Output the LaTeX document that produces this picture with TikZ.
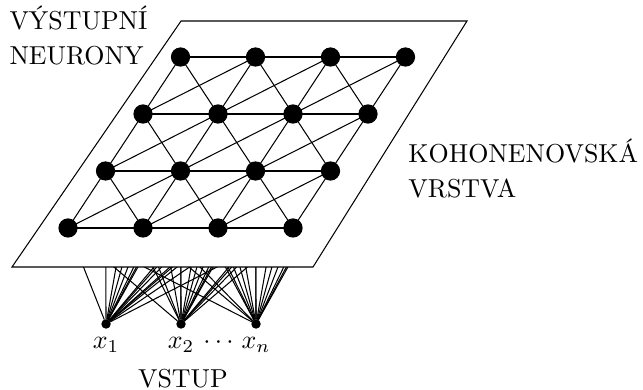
\documentclass[tikz,border=0pt]{standalone}
\usepackage{tikz}
\usetikzlibrary{calc}

\begin{document}
\begin{tikzpicture}[x=28.91pt, y=28.91pt]
	\path [use as bounding box] (-0.907,-2.147) rectangle (7.667,3.04);
	\tikzstyle{neuron} = [circle, fill, draw, inner sep=0pt, minimum size=7pt]
	\tikzstyle{input} = [circle, fill, draw, inner sep=0pt, minimum size=3.2pt]
	\tikzstyle{heading} = [align=left, inner sep=0pt, anchor=north west]
	% lattice points, row \i counted from the bottom
	\foreach \i in {0,...,3}
		\foreach \j in {0,...,3}
			\coordinate (n\i\j) at (\j+0.5*\i, 0.76*\i);
	% inputs
	\node[input, label={[name=l1]below:$x_1$}] (x1) at (0.507,-1.28) {};
	\node[input, label={[name=l2]below:$x_2$}] (x2) at (1.507,-1.28) {};
	\node[input, label={[name=ln]below:$x_n$}] (xn) at (2.507,-1.28) {};
	\node[anchor=base] at ($(l2.base)!.5!(ln.base)$) {$\cdots$};
	\foreach \x in {x1,x2,xn}
		\foreach \i in {0,...,3}
			\foreach \j in {0,...,3}
				\draw (\x) -- (n\i\j);
	% the plane hides the rest of the input lines
	\draw[fill=white] (-0.747,-0.52) -- (3.267,-0.52) -- (5.32,2.76) -- (1.507,2.76) -- cycle;
	% rows
	\foreach \i in {0,...,3}
		\foreach \j in {0,...,2} {
			\pgfmathtruncatemacro\k{\j+1}
			\draw (n\i\j) -- (n\i\k);
		}
	% between rows
	\foreach \i in {0,...,2} {
		\pgfmathtruncatemacro\u{\i+1}
		\foreach \j in {0,...,3} {
			\pgfmathtruncatemacro\l{\j-1}
			\pgfmathtruncatemacro\r{\j+1}
			\draw (n\i\j) -- (n\u\j);
			\ifnum\j>0 \draw (n\i\j) -- (n\u\l); \fi
			\ifnum\j<3 \draw (n\i\j) -- (n\u\r); \fi
		}
	}
	\foreach \i in {0,...,3}
		\foreach \j in {0,...,3}
			\node[neuron] (N\i\j) at (n\i\j) {};
	% texts
	\node[heading] (out) at (-0.787,2.973) {VÝSTUPNÍ\\[1.5pt]NEURONY};
	\node[heading] (layer) at (4.533,1.2) {KOHONENOVSKÁ\\[1.5pt]VRSTVA};
	\node[anchor=base, inner sep=0pt] (in) at (1.533,-2.133) {VSTUP};
\end{tikzpicture}
\end{document}
